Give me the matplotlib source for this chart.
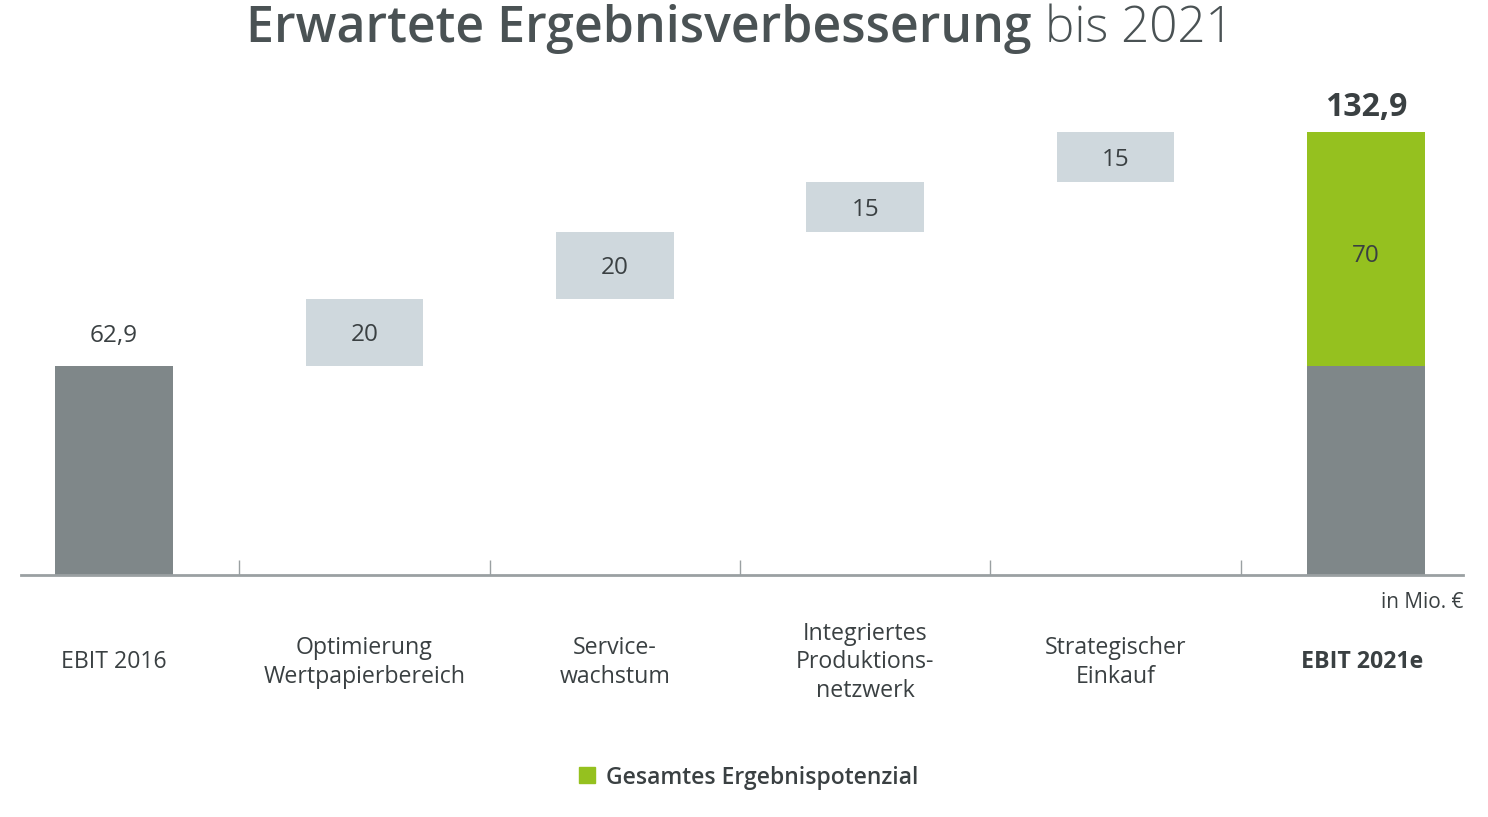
import matplotlib
matplotlib.use("Agg")
import matplotlib.pyplot as plt
from matplotlib.patches import Rectangle
import numpy as np

categories = ["EBIT 2016", "Optimierung\nWertpapierbereich", "Service-\nwachstum",
              "Integriertes\nProduktions-\nnetzwerk", "Strategischer\nEinkauf", "EBIT 2021e"]
ebit_2016 = 62.9
increments = [20, 20, 15, 15]
potential_total = 70
ebit_2021 = 132.9
value_labels = ["62,9", "20", "20", "15", "15", "70"]
total_label = "132,9"
legend_label = "Gesamtes Ergebnispotenzial"

DARK = "#7f8789"
LIGHT = "#cfd8dd"
GREEN = "#95c11f"
TEXT = "#3a4042"
TITLE = "#4a5254"
AXIS = "#9aa0a2"

plt.rcParams['font.family'] = ['Open Sans', 'DejaVu Sans']

W, H = 1488, 817
fig = plt.figure(figsize=(W / 100, H / 100), dpi=100)
px_per_unit = 3.33
top_px = 100
ax = fig.add_axes([21 / W, (H - 575) / H, (1463 - 21) / W, (575 - top_px) / H])
ax.set_ylim(0, (575 - top_px) / px_per_unit)
spacing = 250.4
ax.set_xlim((21 - 114) / spacing, (1463 - 114) / spacing)

x = np.arange(len(categories))
bw = 0.47
VFS = 17.5

# first bar
ax.bar(x[0], ebit_2016, width=bw, color=DARK, zorder=2)
ax.text(x[0], ebit_2016 + 9, value_labels[0], ha='center', va='center', fontsize=VFS, color=TEXT)

# floating bars
bottoms = ebit_2016 + np.concatenate([[0], np.cumsum(increments)[:-1]])
ax.bar(x[1:5], increments, bottom=bottoms, width=bw, color=LIGHT, zorder=2)
for xi, b, v, lab in zip(x[1:5], bottoms, increments, value_labels[1:5]):
    ax.text(xi, b + v / 2 - 0.8, lab, ha='center', va='center', fontsize=VFS, color=TEXT)

# final stacked bar
ax.bar(x[5], ebit_2016, width=bw, color=DARK, zorder=2)
ax.bar(x[5], potential_total, bottom=ebit_2016, width=bw, color=GREEN, zorder=2)
ax.text(x[5], ebit_2016 + potential_total / 2 - 2.2, value_labels[5], ha='center', va='center',
        fontsize=VFS, color=TEXT)
ax.text(x[5], ebit_2021 + 7.5, total_label, ha='center', va='center', fontsize=23,
        fontweight='bold', color=TEXT)

# axis
for s in ['top', 'right', 'left']:
    ax.spines[s].set_visible(False)
ax.spines['bottom'].set_color(AXIS)
ax.spines['bottom'].set_linewidth(2)
ax.set_yticks([])
ax.set_xticks(x[:-1] + 0.5)
ax.set_xticklabels([])
ax.tick_params(axis='x', direction='in', length=11, width=1.0, color=AXIS)

# category labels
for xi, c in zip(x, categories):
    xp = 114 + xi * spacing - (4 if c == "EBIT 2021e" else 0)
    fig.text(xp / W, 1 - 662.5 / H, c, ha='center', va='center', fontsize=16.7, color=TEXT,
             fontweight='bold' if c == "EBIT 2021e" else 'normal', linespacing=1.24)

fig.text(1463 / W, 1 - 603 / H, "in Mio. €", ha='right', va='center', fontsize=15, color=TEXT)

# title
fig.text(1032 / W, 1 - 29 / H, "Erwartete Ergebnisverbesserung", ha='right', va='center',
         fontsize=36, fontweight=600, color=TITLE)
fig.text(1045 / W, 1 - 29 / H, "bis 2021", ha='left', va='center',
         fontsize=35.5, fontweight=300, color=TITLE)

# legend
fig.patches.append(Rectangle((579 / W, 1 - 783 / H), 16 / W, 16 / H, transform=fig.transFigure,
                             color=GREEN))
fig.text(606 / W, 1 - 778 / H, legend_label, ha='left', va='center', fontsize=16.5,
         fontweight=600, color=TEXT)

fig.savefig("out.png", dpi=100)
